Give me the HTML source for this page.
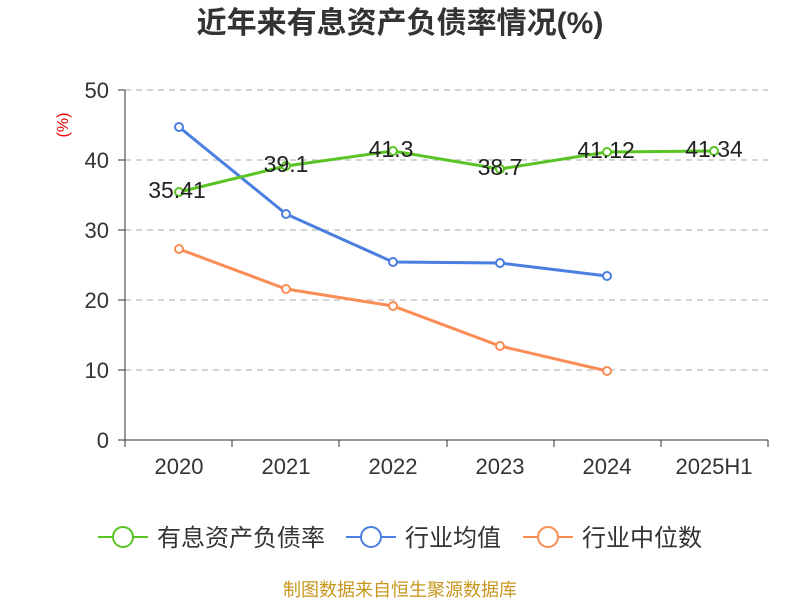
<!DOCTYPE html>
<html><head><meta charset="utf-8"><style>body{margin:0;background:#fff}svg{display:block}</style></head><body>
<svg width="800" height="600" xmlns="http://www.w3.org/2000/svg" font-family="'Liberation Sans','Noto Sans CJK SC',sans-serif">
<text x="400" y="33" text-anchor="middle" font-size="30" font-weight="bold" fill="#333">近年来有息资产负债率情况(%)</text>
<text x="68" y="125" font-size="16" fill="#e00" transform="rotate(-90 68 125)" text-anchor="middle">(%)</text>
<g stroke="#bbb" stroke-dasharray="6,5" stroke-width="1.2">
<line x1="125" y1="90" x2="768" y2="90"/><line x1="125" y1="160" x2="768" y2="160"/><line x1="125" y1="230" x2="768" y2="230"/><line x1="125" y1="300" x2="768" y2="300"/><line x1="125" y1="370" x2="768" y2="370"/></g>
<g stroke="#333" stroke-width="1">
<line x1="125" y1="90" x2="125" y2="440"/><line x1="125" y1="440" x2="768" y2="440"/>
<line x1="118" y1="90" x2="125" y2="90"/><line x1="118" y1="160" x2="125" y2="160"/><line x1="118" y1="230" x2="125" y2="230"/><line x1="118" y1="300" x2="125" y2="300"/><line x1="118" y1="370" x2="125" y2="370"/><line x1="118" y1="440" x2="125" y2="440"/>
<line x1="125" y1="440" x2="125" y2="447"/><line x1="232" y1="440" x2="232" y2="447"/><line x1="339" y1="440" x2="339" y2="447"/><line x1="447" y1="440" x2="447" y2="447"/><line x1="554" y1="440" x2="554" y2="447"/><line x1="661" y1="440" x2="661" y2="447"/><line x1="768" y1="440" x2="768" y2="447"/></g>
<g font-size="22" fill="#333" text-anchor="end">
<text x="109" y="98">50</text><text x="109" y="168">40</text><text x="109" y="238">30</text><text x="109" y="308">20</text><text x="109" y="378">10</text><text x="109" y="448">0</text></g>
<g font-size="22" fill="#333" text-anchor="middle">
<text x="179" y="474">2020</text><text x="286" y="474">2021</text><text x="393" y="474">2022</text><text x="500" y="474">2023</text><text x="607" y="474">2024</text><text x="714" y="474">2025H1</text></g>
<g fill="#fff" stroke-width="2">
<polyline fill="none" points="179,127 286,214 393,262 500,263 607,276" style="stroke:#4a7ee0;stroke-width:3"/>
<polyline fill="none" points="179,249 286,289 393,306 500,346 607,371" style="stroke:#fa8c55;stroke-width:3"/>
<polyline fill="none" points="179,192 286,166 393,151 500,169 607,152 714,151" style="stroke:#5ac424;stroke-width:3"/>
<g stroke="#4a7ee0"><circle cx="179" cy="127" r="4"/><circle cx="286" cy="214" r="4"/><circle cx="393" cy="262" r="4"/><circle cx="500" cy="263" r="4"/><circle cx="607" cy="276" r="4"/></g>
<g stroke="#fa8c55"><circle cx="179" cy="249" r="4"/><circle cx="286" cy="289" r="4"/><circle cx="393" cy="306" r="4"/><circle cx="500" cy="346" r="4"/><circle cx="607" cy="371" r="4"/></g>
<g stroke="#5ac424"><circle cx="179" cy="192" r="4"/><circle cx="286" cy="166" r="4"/><circle cx="393" cy="151" r="4"/><circle cx="500" cy="169" r="4"/><circle cx="607" cy="152" r="4"/><circle cx="714" cy="151" r="4"/></g></g>
<g font-size="23" fill="#222" text-anchor="middle">
<text x="177" y="198">35.41</text><text x="286" y="172">39.1</text><text x="391" y="157">41.3</text><text x="500" y="175">38.7</text><text x="606" y="158">41.12</text><text x="714" y="157">41.34</text></g>
<g stroke-width="2" fill="#fff">
<line x1="98" y1="537" x2="148" y2="537" stroke="#5ac424"/><circle cx="123" cy="537" r="10" stroke="#5ac424"/>
<line x1="346" y1="537" x2="396" y2="537" stroke="#4a7ee0"/><circle cx="371" cy="537" r="10" stroke="#4a7ee0"/>
<line x1="523" y1="537" x2="573" y2="537" stroke="#fa8c55"/><circle cx="548" cy="537" r="10" stroke="#fa8c55"/></g>
<g font-size="24" fill="#333"><text x="157" y="546">有息资产负债率</text><text x="405" y="546">行业均值</text><text x="582" y="546">行业中位数</text></g>
<text x="400" y="596" text-anchor="middle" font-size="18" fill="#c8961e">制图数据来自恒生聚源数据库</text>
</svg></body></html>
